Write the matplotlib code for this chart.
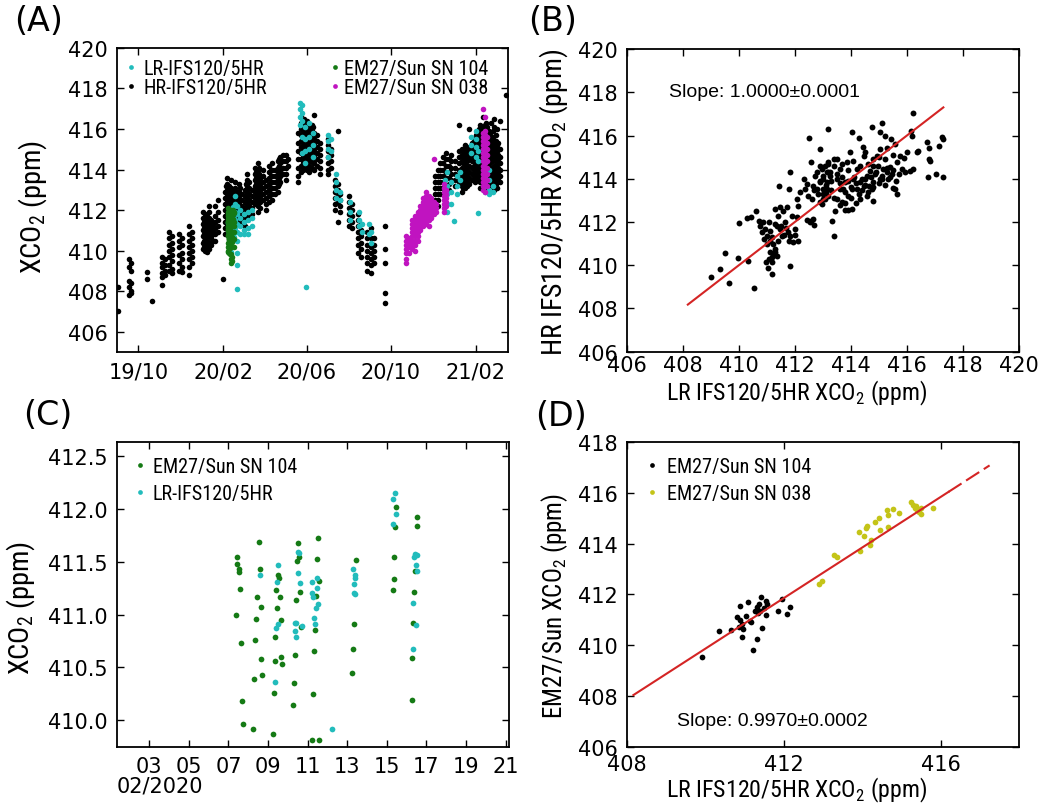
import numpy as np
import pandas as pd
import matplotlib
matplotlib.use("Agg")
import matplotlib.pyplot as plt
import matplotlib.dates as mdates
import matplotlib.ticker as mticker
from matplotlib import font_manager
from matplotlib.lines import Line2D
from matplotlib.transforms import blended_transform_factory

# ---------------- data ----------------
# (A) time series, one list of XCO2 values per observation day
hr_dates = [
    "2019-09-01", "2019-09-17", "2019-09-20", "2019-10-14", "2019-10-21",
    "2019-11-04", "2019-11-08", "2019-11-14", "2019-11-18", "2019-11-29",
    "2019-12-03", "2019-12-14", "2019-12-17",
    "2020-01-02", "2020-01-05", "2020-01-08", "2020-01-11", "2020-01-14",
    "2020-01-17", "2020-01-20", "2020-01-24", "2020-01-31",
    "2020-02-03", "2020-02-06", "2020-02-09", "2020-02-12", "2020-02-15",
    "2020-02-18", "2020-02-21", "2020-02-24", "2020-02-28",
    "2020-03-03", "2020-03-07", "2020-03-10", "2020-03-14", "2020-03-18",
    "2020-03-22", "2020-03-26", "2020-03-30", "2020-04-03",
    "2020-04-08", "2020-04-12", "2020-04-16", "2020-04-20", "2020-04-24",
    "2020-04-28", "2020-05-02", "2020-05-05",
    "2020-05-20", "2020-05-24", "2020-05-28", "2020-06-01", "2020-06-04",
    "2020-06-08", "2020-06-12", "2020-06-16", "2020-06-20",
    "2020-07-02", "2020-07-06", "2020-07-12", "2020-07-16", "2020-07-20",
    "2020-08-02", "2020-08-06", "2020-08-14", "2020-08-19", "2020-08-28",
    "2020-09-02", "2020-09-07", "2020-09-23",
    "2020-12-04", "2020-12-08", "2020-12-12", "2020-12-16", "2020-12-20",
    "2020-12-24", "2020-12-28", "2021-01-02", "2021-01-08", "2021-01-12",
    "2021-01-16", "2021-01-20", "2021-01-23", "2021-01-27", "2021-01-31",
    "2021-02-04", "2021-02-08", "2021-02-12", "2021-02-16", "2021-02-20",
    "2021-02-24", "2021-02-28", "2021-03-04", "2021-03-08", "2021-03-17",
    "2020-01-04", "2020-01-10", "2020-02-05", "2020-02-11", "2020-02-17",
    "2020-02-26", "2020-03-05", "2020-03-20", "2020-03-24", "2020-04-10",
    "2020-04-22", "2020-05-26", "2020-05-30", "2020-06-02", "2020-06-06",
    "2020-06-10", "2021-01-14", "2021-01-18", "2021-01-29", "2021-02-02",
    "2021-02-06", "2021-02-10", "2021-02-14", "2021-02-18", "2021-02-22",
    "2021-02-26", "2021-03-02", "2021-03-06",
]
hr_xco2 = [
    [408.2, 407.0], [409.6, 409.2, 408.5, 408.2, 407.8], [409.4, 409.0, 408.4, 408.0, 407.9],
    [408.95, 408.6], [407.5],
    [409.7, 409.4, 409.2, 408.9, 408.7, 408.3], [409.6, 409.3, 409.0, 408.8],
    [410.9, 410.6, 410.3, 410.0, 409.7, 409.3, 409.0], [410.7, 410.4, 410.1, 409.8, 409.5, 409.1, 408.9],
    [410.8, 410.5, 410.2, 409.8, 409.4, 409.0],
    [410.6, 410.3, 409.9, 409.6, 409.2, 408.95], [411.2, 410.8, 410.5, 410.2, 409.9, 409.6, 409.2, 408.8],
    [410.9, 410.6, 410.3, 410.0, 409.7, 409.4],
    [411.9, 411.6, 411.3, 411.0, 410.7, 410.4, 410.1], [411.8, 411.5, 411.2, 410.9, 410.6, 410.3, 410.0],
    [411.7, 411.4, 411.1, 410.8, 410.5, 410.2, 409.95], [412.2, 411.9, 411.6, 411.3, 411.0, 410.7, 410.4, 410.1],
    [411.5, 411.2, 410.9, 410.6, 410.3],
    [411.3, 411.0, 410.8, 410.5], [412.2, 411.7, 411.4, 411.1, 410.8, 410.5], [412.5, 411.9, 411.5, 411.2, 410.9],
    [408.6],
    [412.9, 412.6, 412.3, 412.0, 411.7, 411.4, 411.1, 410.8], [413.6, 413.3, 413.0, 412.7, 412.4, 412.1, 411.8, 411.5, 411.2],
    [413.2, 412.9, 412.6, 412.3, 412.0, 411.7, 411.4, 411.1, 410.8], [413.5, 413.1, 412.8, 412.5, 412.2, 411.9, 411.6, 411.3],
    [413.0, 412.7, 412.4, 412.1, 411.8, 411.5, 411.2],
    [413.4, 413.1, 412.8, 412.5, 412.2, 411.9, 411.6], [412.9, 412.6, 412.3, 412.0, 411.7, 411.4],
    [413.3, 412.9, 412.6, 412.3, 412.0, 411.7, 411.4], [412.8, 412.5, 412.2, 411.9, 411.6, 411.3],
    [413.0, 412.7, 412.4, 412.1, 411.8, 411.5, 411.2], [413.8, 413.5, 413.2, 412.9, 412.6, 412.3, 412.0, 411.7],
    [413.4, 413.1, 412.8, 412.5, 412.2, 411.9, 411.6], [413.0, 412.7, 412.4, 412.1, 411.8],
    [414.1, 413.8, 413.5, 413.2, 412.9, 412.6, 412.3],
    [414.3, 414.0, 413.7, 413.4, 413.1, 412.8, 412.5, 412.2, 411.9], [413.6, 413.3, 413.0, 412.7, 412.4, 412.1],
    [414.0, 413.7, 413.4, 413.1, 412.8, 412.5], [413.5, 413.2, 412.9, 412.6, 412.3, 412.0],
    [414.2, 413.9, 413.6, 413.3, 413.0, 412.7, 412.4], [414.3, 414.0, 413.7, 413.4, 413.1, 412.8, 412.5],
    [414.0, 413.7, 413.4, 413.1, 412.8], [414.4, 414.1, 413.8, 413.5, 413.2, 412.9],
    [414.6, 414.3, 414.0, 413.7, 413.4],
    [414.7, 414.4, 414.1, 413.8], [414.7, 414.4, 414.1, 413.8, 413.5], [414.5, 414.2],
    [415.8, 415.3, 414.9, 414.5, 414.1, 413.7, 413.4],
    [416.6, 416.3, 416.0, 415.7, 415.4, 415.1, 414.8, 414.5, 414.2, 413.9],
    [416.5, 416.2, 415.9, 415.6, 415.3, 415.0, 414.7, 414.4, 414.1],
    [416.4, 416.1, 415.8, 415.5, 415.2, 414.9, 414.6, 414.3, 414.0],
    [416.0, 415.7, 415.4, 415.1, 414.8, 414.5, 414.2, 413.9],
    [416.2, 415.9, 415.6, 415.3, 415.0, 414.7, 414.4, 414.1],
    [416.7, 415.8, 415.5, 415.2, 414.9, 414.6, 414.3, 414.0],
    [415.7, 415.4, 415.1, 414.8, 414.5, 414.2], [415.3, 415.0, 414.7, 414.4, 414.1, 413.8],
    [415.5, 415.2, 414.9, 414.6, 414.3, 414.0, 413.8], [415.0, 414.7, 414.4, 414.1],
    [413.5, 413.2, 412.9, 412.6, 412.3, 412.0], [415.9, 413.3, 413.0, 412.7, 412.4, 411.4],
    [412.8, 412.5, 412.2, 411.9],
    [412.7, 412.4, 412.1, 411.8, 411.5, 411.2], [412.3, 412.0, 411.7, 411.4, 411.1],
    [411.8, 411.5, 411.2, 410.9, 410.6, 410.3, 409.9], [411.3, 411.0, 410.7, 410.4, 410.1, 409.7],
    [410.9, 410.6, 410.3, 410.0, 409.7, 409.4, 409.0],
    [411.1, 410.6, 410.2, 409.9, 409.6, 409.3, 408.9], [410.6, 410.3, 410.0, 409.7, 409.4],
    [411.2, 410.1, 409.4, 407.9, 407.4],
    [413.7, 413.4, 413.1, 412.8, 412.5], [414.0, 413.7, 413.4, 413.1, 412.8, 412.5, 412.2],
    [414.3, 414.0, 413.7, 413.4, 413.1, 412.8], [414.6, 414.3, 414.0, 413.7, 413.4, 413.1, 412.8],
    [414.8, 414.5, 414.2, 413.9, 413.6],
    [414.5, 414.2, 413.9, 413.6, 413.3, 413.0], [414.7, 414.4, 414.1, 413.8, 413.5],
    [414.4, 414.1, 413.8, 413.5, 413.2], [416.2, 414.9, 414.6, 414.3, 414.0, 413.7, 413.4],
    [415.0, 414.7, 414.4, 414.1, 413.8, 413.5, 413.2, 412.9],
    [415.2, 414.9, 414.6, 414.3, 414.0, 413.7, 413.4, 413.1], [415.0, 414.7, 414.4, 414.1, 413.8, 413.5, 413.2],
    [416.0, 415.1, 414.8, 414.5, 414.2, 413.9, 413.6, 413.3], [415.3, 415.0, 414.7, 414.4, 414.1, 413.8, 413.5],
    [415.5, 415.2, 414.9, 414.6, 414.3, 414.0, 413.7, 413.4],
    [415.9, 415.6, 415.3, 415.0, 414.7, 414.4, 414.1, 413.8, 413.5],
    [416.2, 415.8, 415.5, 415.2, 414.9, 414.6, 414.3, 414.0, 413.7, 413.4, 413.1],
    [416.6, 416.0, 415.7, 415.4, 415.1, 414.8, 414.5, 414.2, 413.9, 413.6, 413.3],
    [416.3, 416.0, 415.7, 415.4, 415.1, 414.8, 414.5, 414.2, 413.9, 413.6, 413.3, 413.0],
    [415.9, 415.6, 415.3, 415.0, 414.7, 414.4, 414.1, 413.8, 413.5, 413.2],
    [416.3, 415.6, 415.3, 415.0, 414.7, 414.4, 414.1, 413.8, 413.5, 413.2],
    [416.5, 416.1, 415.4, 415.1, 414.8, 414.5, 414.2, 413.9, 413.6, 413.3, 413.0],
    [416.0, 415.2, 414.9, 414.6, 414.3, 414.0, 413.7, 413.4, 413.1],
    [416.4, 415.0, 414.6, 414.3, 414.0, 413.7, 413.4], [417.7],
    [411.4, 411.1, 410.8, 410.5, 410.2], [411.6, 411.3, 411.0, 410.7, 410.4],
    [413.2, 412.9, 412.6, 412.3, 412.0, 411.7, 411.4, 411.1], [413.0, 412.7, 412.4, 412.1, 411.8, 411.5, 411.2],
    [412.9, 412.6, 412.3, 412.0, 411.7, 411.4], [413.1, 412.8, 412.5, 412.2, 411.9, 411.6],
    [413.3, 413.0, 412.7, 412.4, 412.1, 411.8], [413.9, 413.6, 413.3, 413.0, 412.7, 412.4],
    [414.1, 413.8, 413.5, 413.2, 412.9, 412.6], [414.0, 413.7, 413.4, 413.1, 412.8],
    [414.5, 414.2, 413.9, 413.6, 413.3],
    [416.4, 416.1, 415.8, 415.5, 415.2, 414.9, 414.6, 414.3, 414.0],
    [416.3, 416.0, 415.7, 415.4, 415.1, 414.8, 414.5, 414.2],
    [416.2, 415.9, 415.6, 415.3, 415.0, 414.7, 414.4], [415.9, 415.6, 415.3, 415.0, 414.7, 414.4, 414.1],
    [416.1, 415.8, 415.5, 415.2, 414.9, 414.6, 414.3],
    [414.9, 414.6, 414.3, 414.0, 413.7, 413.4, 413.1], [415.1, 414.8, 414.5, 414.2, 413.9, 413.6, 413.3],
    [415.4, 415.1, 414.8, 414.5, 414.2, 413.9, 413.6], [415.7, 415.4, 415.1, 414.8, 414.5, 414.2, 413.9, 413.6],
    [416.0, 415.7, 415.4, 415.1, 414.8, 414.5, 414.2, 413.9, 413.6],
    [416.1, 415.8, 415.5, 415.2, 414.9, 414.6, 414.3, 414.0, 413.7, 413.4],
    [416.2, 415.9, 415.6, 415.3, 415.0, 414.7, 414.4, 414.1, 413.8, 413.5, 413.2],
    [416.1, 415.8, 415.5, 415.2, 414.9, 414.6, 414.3, 414.0, 413.7, 413.4, 413.1],
    [415.8, 415.5, 415.2, 414.9, 414.6, 414.3, 414.0, 413.7, 413.4],
    [415.9, 415.6, 415.3, 415.0, 414.7, 414.4, 414.1, 413.8, 413.5, 413.2],
    [415.7, 415.4, 415.1, 414.8, 414.5, 414.2, 413.9, 413.6, 413.3],
    [415.3, 415.0, 414.7, 414.4, 414.1, 413.8, 413.5],
]

lr_dates = [
    "2020-02-18", "2020-02-21", "2020-02-25", "2020-03-02", "2020-03-08", "2020-03-14",
    "2020-05-22", "2020-05-25", "2020-05-29", "2020-05-31", "2020-06-04", "2020-06-10",
    "2020-07-02", "2020-07-06", "2020-07-13", "2020-07-20", "2020-08-03", "2020-08-16",
    "2020-08-20", "2020-08-30", "2020-09-03",
    "2020-12-18", "2020-12-22", "2020-12-28", "2020-12-31", "2021-01-05", "2021-01-10",
    "2021-01-26", "2021-02-01", "2021-02-05", "2021-02-14", "2021-02-20", "2021-02-26",
]
lr_xco2 = [
    [412.7, 412.3, 411.9, 411.5, 411.1], [412.2, 411.8, 411.3, 410.9, 410.5, 409.9, 409.3, 408.1],
    [412.0, 411.6, 411.2, 410.8], [411.8, 411.4, 411.0, 410.8], [411.9, 411.5, 411.1, 410.8],
    [412.0, 411.6, 411.2],
    [417.3, 417.0, 416.6, 416.2], [417.2, 416.8, 416.4, 415.6, 414.8], [416.1, 415.5, 414.9, 414.3],
    [408.2], [416.3, 415.6, 415.0], [415.8, 415.2, 414.6],
    [415.7, 415.4, 415.0, 414.6], [415.5, 414.9], [413.8, 413.4, 413.0, 412.6], [412.9, 412.5],
    [412.4, 411.9, 411.5], [411.9, 411.5, 411.2], [411.3, 410.9], [411.3, 410.8], [410.9, 410.4],
    [413.5, 413.0, 412.6, 412.2], [413.9, 413.2, 412.8, 412.3, 411.9], [413.4, 412.9, 412.3],
    [411.45], [413.7, 413.2, 412.8], [413.9, 413.5],
    [415.6, 415.2, 414.8], [415.9, 415.5, 415.1, 414.6], [411.85, 414.9, 414.4],
    [413.6, 413.2, 412.9], [414.0, 413.5, 413.0, 412.8], [413.2, 412.9],
]

em104_extra_dates = ["2020-02-08", "2020-02-12", "2020-02-14"]
em104_extra_xco2 = [[412.1, 411.9, 411.8], [409.4, 409.6, 412.0], [409.5, 409.7]]

em038_dates = [
    "2020-10-23", "2020-10-27", "2020-11-01", "2020-11-05", "2020-11-09", "2020-11-13",
    "2020-11-17", "2020-11-21", "2020-11-25", "2020-11-29", "2020-12-02", "2020-12-06",
    "2020-12-17", "2020-12-20", "2021-02-12", "2021-02-15", "2021-02-18",
]
em038_xco2 = [
    [410.7, 410.5, 410.3, 410.1, 409.9, 409.6, 409.4], [410.6, 410.4, 410.2, 409.9],
    [411.5, 411.3, 411.1, 410.9, 410.7, 410.5, 410.3, 410.1],
    [411.7, 411.5, 411.3, 411.1, 410.9, 410.7, 410.5, 410.3, 410.0],
    [411.9, 411.7, 411.5, 411.3, 411.1, 410.9, 410.7, 410.5],
    [412.2, 412.0, 411.8, 411.6, 411.4, 411.2, 411.0],
    [412.6, 412.4, 412.2, 412.0, 411.8, 411.6, 411.4, 411.2],
    [412.9, 412.7, 412.5, 412.3, 412.1, 411.9, 411.7, 411.5, 411.3],
    [412.7, 412.5, 412.3, 412.1, 411.9, 411.7, 411.5, 411.2],
    [412.6, 412.4, 412.2, 412.0, 411.8, 411.6], [414.5, 412.4, 412.2, 412.0, 411.8],
    [412.3, 412.1, 411.9],
    [413.3, 413.1, 412.9, 412.7, 412.5, 412.3, 412.1, 411.9], [413.0, 412.8, 412.6, 412.4, 412.2],
    [417.0, 415.8, 415.6, 415.4, 415.2, 415.0, 414.8, 414.6, 414.4, 414.2, 414.0, 413.8, 413.6, 413.4, 413.2, 413.0],
    [416.6, 415.9, 415.7, 415.5, 415.3, 415.1, 414.9, 414.7, 414.5, 414.3, 414.1, 413.9, 413.7, 413.5, 413.3, 412.9],
    [415.6, 415.3, 415.0, 414.7, 414.4, 414.1, 413.8, 413.5, 413.2],
]

# (B) LR vs HR IFS120/5HR
b_lr = [
    409.00, 409.34, 409.66, 409.49, 409.97, 410.32, 410.54, 410.01, 410.28, 410.43,
    410.62, 410.71, 411.06, 410.96, 411.03, 411.20, 411.84, 410.76, 410.88, 410.94,
    410.82, 411.00, 411.12, 411.23, 411.29, 411.26, 411.35, 411.18, 411.09, 411.29,
    411.47, 411.41, 411.59, 411.71, 411.35, 411.47, 411.53, 411.65, 411.77, 411.83,
    411.95, 412.01, 412.07, 412.13, 411.89, 411.45, 411.79, 411.84, 412.50, 412.91,
    413.20, 412.57, 412.31, 412.37, 412.48, 412.60, 412.66, 412.57, 412.78, 412.90,
    413.02, 413.08, 412.96, 412.72, 413.14, 413.20, 413.02, 412.43, 412.66, 412.84,
    412.90, 413.26, 413.14, 413.20, 412.19, 412.07, 412.45, 412.54, 412.70, 416.21,
    414.52, 414.77, 415.11, 414.05, 414.30, 414.42, 415.04, 415.22, 415.42, 415.58,
    416.14, 416.17, 416.71, 416.80, 417.16, 417.24, 417.28, 416.77, 416.83, 416.74,
    417.04, 417.30, 416.35, 416.41, 416.21, 416.11, 416.02, 415.88, 415.76, 415.66,
    415.82, 415.93, 415.58, 415.66, 415.49, 415.40, 415.28, 415.16, 415.10, 414.98,
    414.92, 414.80, 414.69, 414.57, 414.80, 414.74, 414.78, 414.57, 414.45, 414.33,
    414.21, 414.09, 414.03, 413.91, 413.79, 413.73, 414.03, 413.91, 413.79, 413.44,
    413.32, 413.38, 413.61, 413.85, 413.97, 414.09, 414.21, 414.45, 414.33, 413.50,
    413.26, 413.14, 413.02, 413.08, 412.96, 413.38, 413.61, 413.50, 413.67, 414.33,
    414.51, 414.63, 414.86, 415.04, 415.34, 415.46, 415.04, 415.22, 413.00, 413.10,
    413.20, 413.30, 413.40, 413.50, 413.10, 413.30, 413.60, 413.70, 413.80, 413.90,
    414.00, 414.10, 414.20, 414.30, 414.40, 414.50, 414.60, 414.70, 414.80, 414.90,
    415.00, 415.10, 415.20, 415.30, 415.40, 415.50, 415.60, 415.70, 412.80, 412.90,
    413.00, 412.70, 413.40, 413.60, 413.80, 414.00, 414.20, 414.40, 414.60, 414.80,
    415.00, 415.30, 415.50, 413.90, 413.50, 413.20, 412.90, 413.70, 411.00, 411.10,
    411.20, 411.40, 411.50, 411.60, 411.30, 411.10, 411.20, 411.30, 410.90, 411.70,
    411.80, 412.00, 412.10,
]
b_hr = [
    409.44, 409.82, 409.18, 410.56, 410.32, 410.19, 408.96, 411.97, 412.17, 412.21,
    412.51, 412.03, 412.01, 410.13, 409.85, 409.59, 409.95, 411.83, 411.98, 411.67,
    411.52, 411.37, 411.13, 410.98, 410.75, 410.52, 410.44, 410.13, 410.29, 412.60,
    412.68, 412.29, 412.52, 412.68, 411.83, 411.67, 411.37, 411.98, 411.52, 411.37,
    411.06, 411.67, 412.21, 412.75, 412.29, 413.65, 413.52, 414.33, 415.88, 415.37,
    416.30, 414.76, 413.99, 413.52, 413.22, 413.06, 412.14, 412.06, 413.52, 413.83,
    414.14, 414.60, 414.45, 414.14, 413.52, 413.22, 413.06, 413.76, 413.68, 413.29,
    412.91, 414.14, 414.30, 414.76, 413.37, 413.06, 412.11, 411.98, 411.86, 417.04,
    415.25, 416.41, 416.58, 416.18, 415.87, 415.45, 416.18, 415.99, 415.84, 415.61,
    416.22, 415.99, 415.71, 415.41, 415.53, 415.95, 415.84, 414.91, 414.83, 414.06,
    414.22, 414.06, 415.22, 415.30, 414.45, 414.37, 415.22, 414.94, 415.07, 414.76,
    414.45, 414.30, 413.52, 413.29, 413.56, 414.53, 414.30, 414.45, 414.14, 414.60,
    415.07, 414.91, 414.37, 414.14, 413.83, 413.52, 412.98, 413.22, 413.68, 413.83,
    413.52, 413.99, 413.52, 413.22, 413.83, 413.52, 412.60, 412.57, 412.57, 412.52,
    412.06, 411.37, 414.45, 414.76, 415.22, 414.83, 414.45, 415.07, 414.60, 413.99,
    414.30, 413.83, 413.52, 413.06, 412.83, 414.91, 413.52, 413.06, 412.91, 413.06,
    413.99, 413.68, 414.22, 413.99, 413.99, 414.22, 415.37, 414.91, 414.00, 413.70,
    414.30, 413.90, 414.60, 414.20, 413.40, 413.50, 413.80, 414.10, 413.40, 413.90,
    413.60, 414.10, 413.80, 413.30, 414.00, 413.70, 413.40, 414.10, 413.60, 414.30,
    413.80, 414.00, 413.70, 414.50, 414.10, 414.40, 413.90, 414.20, 414.30, 413.90,
    413.30, 413.50, 413.10, 412.80, 412.90, 413.10, 412.90, 413.50, 414.70, 414.60,
    415.00, 415.40, 415.10, 414.40, 414.90, 414.70, 414.60, 414.70, 411.00, 411.60,
    411.30, 411.10, 411.80, 411.40, 411.90, 410.60, 410.40, 410.60, 411.20, 411.70,
    411.10, 411.40, 411.10,
]
b_fit_slope, b_fit_intercept = 1.0000, 0.0
b_fit_range = [408.18, 417.30]

# (C) February 2020 (day of month)
c_em104_day = [
    7.42, 7.45, 7.52, 7.55, 7.59, 7.39, 7.62, 7.69, 7.72, 8.26,
    8.53, 8.57, 8.43, 8.63, 8.39, 8.34, 8.66, 8.70, 8.29, 9.24,
    9.40, 9.47, 9.52, 9.55, 9.60, 9.37, 9.64, 9.67, 9.71, 9.34,
    9.30, 10.53, 10.45, 10.57, 10.41, 10.63, 10.68, 10.34, 10.31, 10.28,
    11.50, 11.45, 11.57, 11.42, 11.37, 11.34, 11.29, 11.24, 11.59, 13.44,
    13.34, 13.30, 13.25, 15.45, 15.40, 15.37, 15.34, 15.29, 16.53, 16.50,
    16.43, 16.38, 16.31, 16.29, 16.26,
]
c_em104_xco2 = [
    411.54, 411.48, 411.43, 411.40, 411.24, 411.00, 410.73, 410.18, 409.96, 409.92,
    411.69, 411.43, 411.17, 411.07, 410.96, 410.76, 410.58, 410.43, 410.39, 409.87,
    411.23, 411.06, 411.37, 411.35, 411.17, 410.79, 410.95, 410.60, 410.53, 410.56,
    410.26, 411.68, 411.51, 411.54, 411.14, 411.21, 410.88, 410.62, 410.35, 410.14,
    411.72, 411.53, 411.32, 411.18, 410.85, 410.66, 410.25, 409.81, 409.81, 411.52,
    410.91, 410.67, 410.45, 412.02, 411.83, 411.54, 411.34, 411.23, 411.92, 411.84,
    411.41, 411.21, 410.92, 410.59, 410.19,
]
c_lr_day = [
    8.60, 9.52, 9.45, 9.48, 9.40, 9.34, 10.50, 10.56, 10.53, 10.60,
    10.34, 10.41, 10.34, 10.41, 10.70, 11.24, 11.47, 11.49, 11.22, 11.29,
    11.52, 11.42, 11.32, 11.36, 12.24, 13.30, 13.37, 13.40, 13.34, 13.35,
    13.39, 15.40, 15.29, 15.44, 15.32, 16.41, 16.50, 16.46, 16.53, 16.34,
    16.46, 16.33, 16.38,
]
c_lr_xco2 = [
    411.37, 411.47, 411.31, 410.91, 410.87, 410.36, 411.59, 411.58, 411.39, 411.30,
    410.92, 410.92, 410.84, 410.79, 410.89, 411.31, 411.35, 411.25, 411.20, 411.17,
    411.10, 411.06, 410.97, 410.91, 409.92, 411.43, 411.37, 411.35, 411.29, 411.20,
    411.19, 412.15, 412.09, 411.95, 411.86, 411.57, 411.56, 411.47, 411.41, 411.11,
    410.90, 410.67, 411.54,
]

# (D) LR IFS120/5HR vs EM27/Sun
d_lr_104 = [
    409.92, 410.36, 410.66, 410.80, 410.88, 410.90, 410.86, 410.93, 410.97, 411.05,
    411.10, 411.17, 411.21, 411.31, 411.33, 411.38, 411.43, 411.40, 411.44, 411.54,
    411.58, 411.55, 411.86, 411.97, 412.09, 412.16, 411.27, 411.35, 411.13, 410.95,
    411.50,
]
d_em_104 = [
    409.55, 410.56, 410.60, 411.11, 411.56, 411.01, 410.73, 410.34, 410.64, 411.16,
    411.72, 410.93, 409.81, 410.24, 411.49, 411.62, 411.91, 411.33, 410.66, 411.76,
    411.62, 411.19, 411.34, 411.81, 411.23, 411.52, 411.36, 411.27, 410.95, 410.85,
    411.45,
]
d_lr_038 = [
    412.90, 412.97, 413.29, 413.36, 413.91, 413.95, 414.06, 414.11, 414.13, 414.23,
    414.21, 414.33, 414.43, 414.45, 414.64, 414.65, 414.67, 414.79, 414.94, 415.25,
    415.30, 415.34, 415.41, 415.46, 415.49, 415.37, 415.50, 415.81,
]
d_em_038 = [
    412.40, 412.54, 413.56, 413.46, 414.45, 413.73, 414.32, 414.61, 414.71, 414.16,
    413.95, 414.87, 415.03, 414.53, 415.32, 415.13, 414.67, 415.37, 415.20, 415.63,
    415.53, 415.42, 415.34, 415.24, 415.16, 415.50, 415.42, 415.41,
]
d_fit_slope, d_fit_intercept = 0.9970, 1.09
d_fit_solid = [408.17, 416.20]
d_fit_dashed = [416.20, 417.25]

# ---------------- style ----------------
CYAN = "#22bcbc"
GREEN = "#157a15"
MAGENTA = "#c014c0"
YELLOW = "#c4c418"
RED = "#d42424"

# pick a condensed face for the labels, whatever is installed
_fl = font_manager.fontManager.ttflist
_names = {f.name for f in _fl}
if "Liberation Sans Narrow" in _names:
    NARROW = dict(family=["Liberation Sans Narrow", "DejaVu Sans"])
elif "Roboto Condensed" in _names:
    NARROW = dict(family=["Roboto Condensed", "DejaVu Sans"])
elif any(f.name == "DejaVu Sans" and f.stretch == "condensed" for f in _fl):
    NARROW = dict(family=["DejaVu Sans"], stretch="condensed")
elif "Roboto" in _names:
    NARROW = dict(family=["Roboto", "DejaVu Sans"], stretch="condensed")
else:
    NARROW = dict(family=["Liberation Sans", "DejaVu Sans"])

plt.rcParams["font.family"] = ["DejaVu Sans"]
plt.rcParams["mathtext.fontset"] = "custom"
plt.rcParams["axes.linewidth"] = 1.3

TICK_FS = 15
XLABEL_FS = 17.2
YLABEL_FS = 20.5
LEG_FS = 14.5
SLOPE_FONT = ["Liberation Sans", "DejaVu Sans"]
XCO2 = r"XCO$_\mathregular{2}$"


def expand(dates, groups):
    x, y = [], []
    for d, vals in zip(dates, groups):
        x += [pd.Timestamp(d)] * len(vals)
        y += vals
    return x, y


def style(ax, pad=6.5, xpad=None):
    ax.tick_params(direction="in", top=True, right=True, length=5, width=1,
                   labelsize=TICK_FS, pad=pad)
    if xpad is not None:
        ax.tick_params(axis="x", pad=xpad)


def leg(ax, handles, labels, anchor, spacing, textpad=0.42):
    return ax.legend(handles, labels, loc="upper left", bbox_to_anchor=anchor,
                     frameon=False, borderpad=0, borderaxespad=0, handlelength=0.4,
                     handletextpad=textpad, labelspacing=spacing,
                     prop=dict(size=LEG_FS, **NARROW))


def dot(c):
    return Line2D([], [], ls="none", marker="o", ms=3.4, color=c, mec="none")


fig = plt.figure(figsize=(10.43, 8.12), dpi=100)
axA = fig.add_axes([0.1122, 0.5653, 0.3749, 0.3744])
axB = fig.add_axes([0.6009, 0.5656, 0.3761, 0.3728])
axC = fig.add_axes([0.1122, 0.0792, 0.3758, 0.3749])
axD = fig.add_axes([0.6009, 0.0792, 0.3761, 0.3749])

# ---------------- (A) ----------------
hx, hy = expand(hr_dates, hr_xco2)
lx, ly = expand(lr_dates, lr_xco2)
ex, ey = expand(em104_extra_dates, em104_extra_xco2)
gx = [pd.Timestamp("2020-02-01") + pd.to_timedelta(d - 1, "D") for d in c_em104_day] + ex
gy = list(c_em104_xco2) + ey
cx = [pd.Timestamp("2020-02-01") + pd.to_timedelta(d - 1, "D") for d in c_lr_day]
mx, my = expand(em038_dates, em038_xco2)

S = 16
axA.scatter(hx, hy, s=S, color="black", lw=0)
axA.scatter(lx + cx, ly + list(c_lr_xco2), s=S, color=CYAN, lw=0)
axA.scatter(gx, gy, s=S, color=GREEN, lw=0)
axA.scatter(mx, my, s=S, color=MAGENTA, lw=0)
axA.set_xlim(pd.Timestamp("2019-08-31"), pd.Timestamp("2021-03-20"))
axA.set_ylim(405, 420)
axA.set_yticks(np.arange(406, 421, 2))
axA.set_xticks([pd.Timestamp(t) for t in ["2019-10-01", "2020-02-01", "2020-06-01",
                                          "2020-10-01", "2021-02-01"]])
axA.xaxis.set_major_formatter(mdates.DateFormatter("%y/%m"))
style(axA, xpad=7)
axA.set_ylabel(XCO2 + " (ppm)", fontsize=YLABEL_FS, **NARROW)
axA.yaxis.set_label_coords(-0.175, 0.479)
l1 = leg(axA, [dot(CYAN), dot("black")], ["LR-IFS120/5HR", "HR-IFS120/5HR"],
         (0.026, 0.965), 0.0)
axA.add_artist(l1)
leg(axA, [dot(GREEN), dot(MAGENTA)], ["EM27/Sun SN 104", "EM27/Sun SN 038"],
    (0.546, 0.965), 0.0, textpad=0.25)

# ---------------- (B) ----------------
axB.scatter(b_lr, b_hr, s=18, color="black", lw=0)
bx = np.array(b_fit_range)
axB.plot(bx, b_fit_slope * bx + b_fit_intercept, color=RED, lw=1.5)
axB.set_xlim(406, 420)
axB.set_ylim(406, 420)
axB.set_xticks(np.arange(406, 421, 2))
axB.set_yticks(np.arange(406, 421, 2))
style(axB, xpad=2.5)
axB.text(407.5, 418.05, "Slope: 1.0000\u00b10.0001", fontsize=14, family=SLOPE_FONT,
         ha="left", va="center")
axB.set_xlabel("LR IFS120/5HR " + XCO2 + " (ppm)", fontsize=XLABEL_FS, **NARROW)
axB.set_ylabel("HR IFS120/5HR " + XCO2 + " (ppm)", fontsize=20, **NARROW)
axB.xaxis.set_label_coords(0.432, -0.088)
axB.yaxis.set_label_coords(-0.145, 0.495)

# ---------------- (C) ----------------
axC.scatter(c_em104_day, c_em104_xco2, s=17, color=GREEN, lw=0)
axC.scatter(c_lr_day, c_lr_xco2, s=17, color=CYAN, lw=0)
axC.set_xlim(1.37, 21.17)
axC.set_ylim(409.75, 412.63)
xt = np.arange(3, 22, 2)
axC.set_xticks(xt)
axC.set_xticklabels(["%02d" % v for v in xt])
axC.set_yticks(np.arange(410.0, 412.51, 0.5))
axC.yaxis.set_major_formatter(mticker.FormatStrFormatter("%.1f"))
style(axC, xpad=7)
axC.text(3.55, -0.129, "02/2020", transform=blended_transform_factory(axC.transData, axC.transAxes),
         ha="center", va="center", fontsize=TICK_FS)
axC.set_ylabel(XCO2 + " (ppm)", fontsize=YLABEL_FS, **NARROW)
axC.yaxis.set_label_coords(-0.203, 0.459)
leg(axC, [dot(GREEN), dot(CYAN)], ["EM27/Sun SN 104", "LR-IFS120/5HR"],
    (0.049, 0.952), 0.4)

# ---------------- (D) ----------------
axD.scatter(d_lr_104, d_em_104, s=17, color="black", lw=0)
axD.scatter(d_lr_038, d_em_038, s=17, color=YELLOW, lw=0)
xs = np.array(d_fit_solid)
xd = np.array(d_fit_dashed)
axD.plot(xs, d_fit_slope * xs + d_fit_intercept, color=RED, lw=1.5)
axD.plot(xd, d_fit_slope * xd + d_fit_intercept, color=RED, lw=1.5, dashes=(7.5, 2.6))
axD.set_xlim(408, 418)
axD.set_ylim(406, 418)
axD.set_xticks([408, 412, 416])
axD.set_yticks(np.arange(406, 419, 2))
style(axD, xpad=5)
axD.text(409.28, 407.02, "Slope: 0.9970\u00b10.0002", fontsize=14, family=SLOPE_FONT,
         ha="left", va="center")
axD.set_xlabel("LR IFS120/5HR " + XCO2 + " (ppm)", fontsize=XLABEL_FS, **NARROW)
axD.set_ylabel("EM27/Sun " + XCO2 + " (ppm)", fontsize=18, **NARROW)
axD.xaxis.set_label_coords(0.432, -0.093)
axD.yaxis.set_label_coords(-0.145, 0.467)
leg(axD, [dot("black"), dot(YELLOW)], ["EM27/Sun SN 104", "EM27/Sun SN 038"],
    (0.054, 0.952), 0.4, textpad=0.55)

# panel letters
for lab, x, y in [("(A)", 14, 5), ("(B)", 528, 5), ("(C)", 23, 399), ("(D)", 535, 400)]:
    fig.text(x / 1043, 1 - y / 812, lab, fontsize=24, ha="left", va="top")

fig.savefig("out.png", dpi=100)
